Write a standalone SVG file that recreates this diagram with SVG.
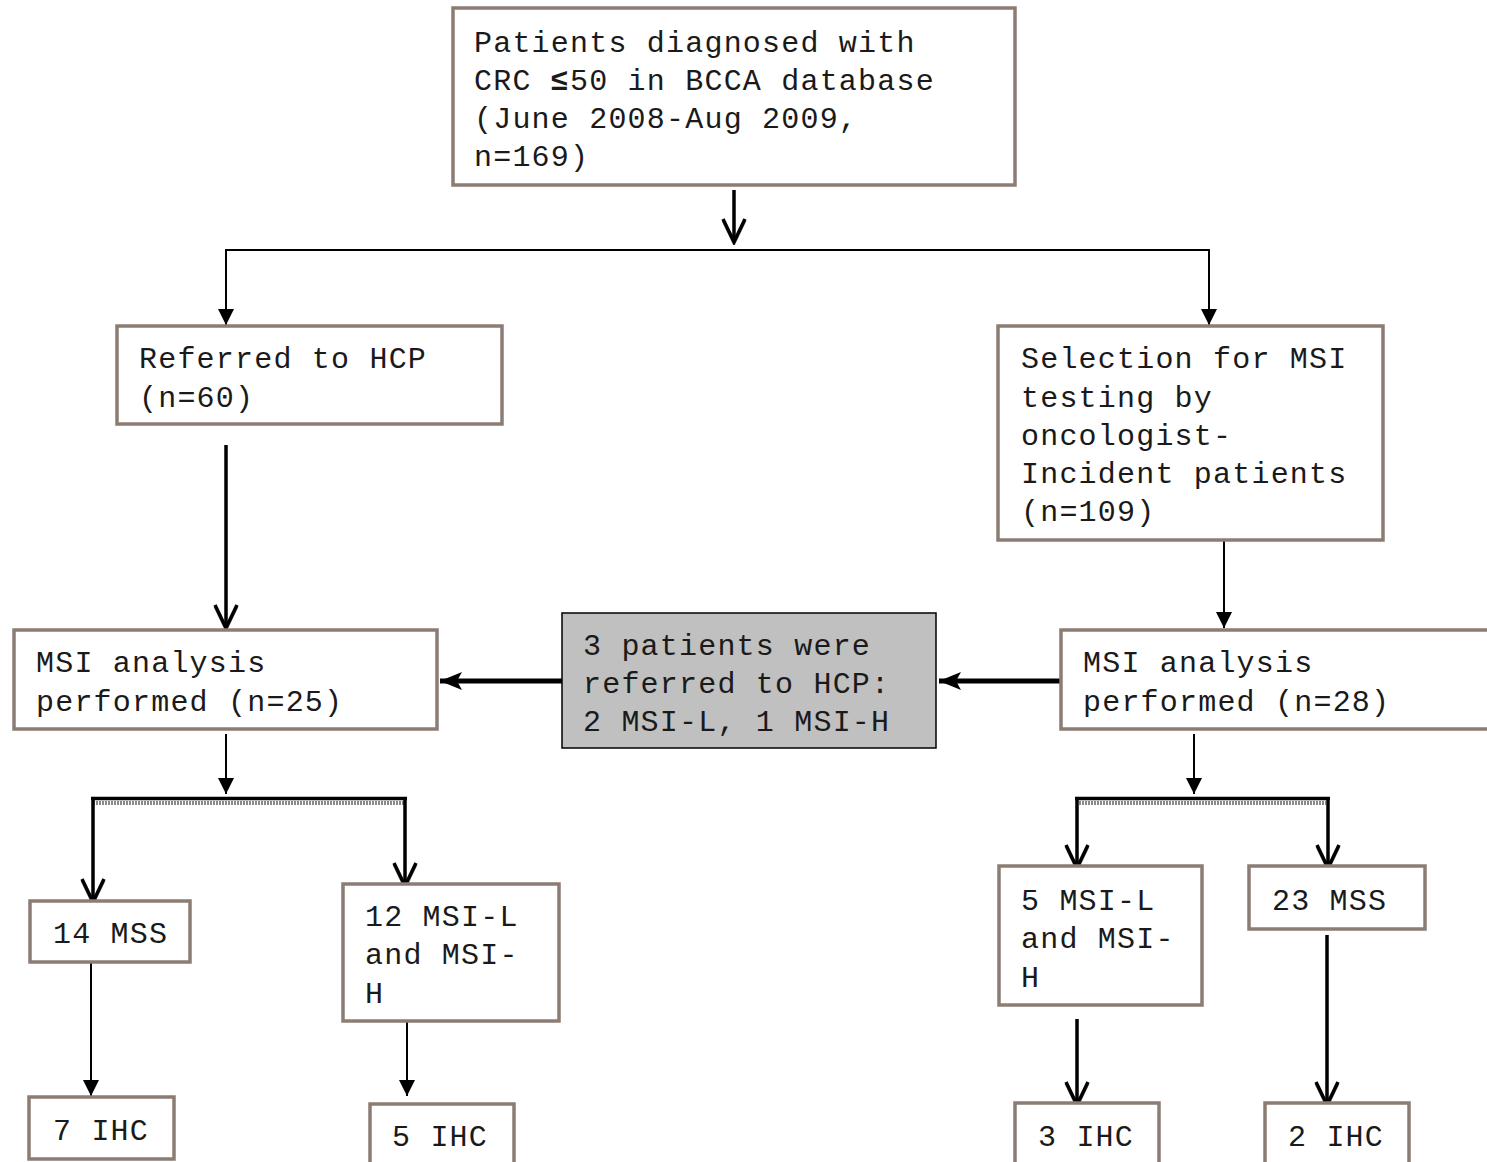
<svg xmlns="http://www.w3.org/2000/svg" width="1487" height="1162" viewBox="0 0 1487 1162">
<style>
.box{fill:#fff;stroke:#8c7d74;stroke-width:3.5}
.grey{fill:#c0c0c0;stroke:#000;stroke-width:1.5}
text{font-family:"Liberation Mono","Courier New",monospace;font-size:30px;letter-spacing:1.2px;fill:#1a1a1a}
.thin{stroke:#000;stroke-width:2;fill:none}
.thick{stroke:#000;stroke-width:3.5;fill:none}
.heavy{stroke:#000;stroke-width:5;fill:none}
.band{stroke:#8a8a8a;stroke-width:4;stroke-dasharray:2 1}
</style>
<defs>
<marker id="tri" markerUnits="userSpaceOnUse" viewBox="0 0 16 16" refX="16" refY="8" markerWidth="16" markerHeight="16" orient="auto">
<path d="M0,0 L16,8 L0,16 z" fill="#000"/>
</marker>
<marker id="triBig" markerUnits="userSpaceOnUse" viewBox="0 0 22 18" refX="22" refY="9" markerWidth="22" markerHeight="18" orient="auto">
<path d="M0,0 L22,9 L0,18 L5,9 z" fill="#000"/>
</marker>
<marker id="vee" markerUnits="userSpaceOnUse" viewBox="0 0 28 28" refX="25" refY="14" markerWidth="28" markerHeight="28" orient="auto">
<path d="M2,3 L25,14 L2,25" fill="none" stroke="#999" stroke-width="3" transform="translate(1.5,0)"/>
<path d="M2,3 L25,14 L2,25" fill="none" stroke="#000" stroke-width="3.5"/>
</marker>
</defs>

<g id="connectors">
<line class="thick" x1="734" y1="190" x2="734" y2="242" marker-end="url(#vee)"/>
<line class="thin" x1="226" y1="250" x2="1209" y2="250"/>
<line class="thin" x1="226" y1="249" x2="226" y2="325" marker-end="url(#tri)"/>
<line class="thin" x1="1209" y1="249" x2="1209" y2="325" marker-end="url(#tri)"/>
<line class="thick" x1="226" y1="445" x2="226" y2="628" marker-end="url(#vee)"/>
<line class="thin" x1="1224" y1="538" x2="1224" y2="628" marker-end="url(#tri)"/>
<line class="heavy" x1="562" y1="681" x2="440" y2="681" marker-end="url(#triBig)"/>
<line class="heavy" x1="1061" y1="681" x2="939" y2="681" marker-end="url(#triBig)"/>
<line class="thin" x1="226" y1="734" x2="226" y2="794" marker-end="url(#tri)"/>
<line class="band" x1="93" y1="803" x2="405" y2="803"/>
<line x1="91" y1="798.5" x2="407" y2="798.5" stroke="#000" stroke-width="3.5"/>
<line class="thick" x1="93" y1="797" x2="93" y2="902" marker-end="url(#vee)"/>
<line class="thick" x1="405" y1="797" x2="405" y2="886" marker-end="url(#vee)"/>
<line class="thin" x1="91" y1="962" x2="91" y2="1096" marker-end="url(#tri)"/>
<line class="thin" x1="407" y1="1021" x2="407" y2="1096" marker-end="url(#tri)"/>
<line class="thin" x1="1194" y1="734" x2="1194" y2="794" marker-end="url(#tri)"/>
<line class="band" x1="1079" y1="803" x2="1326" y2="803"/>
<line x1="1075" y1="798.5" x2="1330" y2="798.5" stroke="#000" stroke-width="3.5"/>
<line class="thick" x1="1077" y1="797" x2="1077" y2="868" marker-end="url(#vee)"/>
<line class="thick" x1="1328" y1="797" x2="1328" y2="868" marker-end="url(#vee)"/>
<line class="thick" x1="1077" y1="1019" x2="1077" y2="1105" marker-end="url(#vee)"/>
<line class="thick" x1="1327" y1="935" x2="1327" y2="1105" marker-end="url(#vee)"/>
</g>

<g id="n-top">
<rect class="box" x="453" y="8" width="562" height="177"/>
<text x="474" y="52">Patients diagnosed with</text>
<text x="474" y="90">CRC <tspan font-weight="bold">≤</tspan>50 in BCCA database</text>
<text x="474" y="128">(June 2008-Aug 2009,</text>
<text x="474" y="166">n=169)</text>
</g>
<g id="n-referred">
<rect class="box" x="117" y="326" width="385" height="98"/>
<text x="139" y="368">Referred to HCP</text>
<text x="139" y="407">(n=60)</text>
</g>
<g id="n-selection">
<rect class="box" x="998" y="326" width="385" height="214"/>
<text x="1021" y="368">Selection for MSI</text>
<text x="1021" y="407">testing by</text>
<text x="1021" y="445">oncologist-</text>
<text x="1021" y="483">Incident patients</text>
<text x="1021" y="521">(n=109)</text>
</g>
<g id="n-msi-left">
<rect class="box" x="14" y="630" width="423" height="99"/>
<text x="36" y="672">MSI analysis</text>
<text x="36" y="711">performed (n=25)</text>
</g>
<g id="n-grey">
<rect class="grey" x="562" y="613" width="374" height="135"/>
<text x="583" y="655">3 patients were</text>
<text x="583" y="693">referred to HCP:</text>
<text x="583" y="731">2 MSI-L, 1 MSI-H</text>
</g>
<g id="n-msi-right">
<rect class="box" x="1061" y="630" width="440" height="99"/>
<text x="1083" y="672">MSI analysis</text>
<text x="1083" y="711">performed (n=28)</text>
</g>
<g id="n-14mss">
<rect class="box" x="30" y="901" width="160" height="61"/>
<text x="53" y="943">14 MSS</text>
</g>
<g id="n-12msi">
<rect class="box" x="343" y="884" width="216" height="137"/>
<text x="365" y="926">12 MSI-L</text>
<text x="365" y="964">and MSI-</text>
<text x="365" y="1003">H</text>
</g>
<g id="n-5msi">
<rect class="box" x="999" y="866" width="203" height="139"/>
<text x="1021" y="910">5 MSI-L</text>
<text x="1021" y="948">and MSI-</text>
<text x="1021" y="987">H</text>
</g>
<g id="n-23mss">
<rect class="box" x="1249" y="866" width="176" height="63"/>
<text x="1272" y="910">23 MSS</text>
</g>
<g id="n-7ihc">
<rect class="box" x="29" y="1097" width="145" height="62"/>
<text x="53" y="1140">7 IHC</text>
</g>
<g id="n-5ihc">
<rect class="box" x="370" y="1104" width="144" height="70"/>
<text x="392" y="1146">5 IHC</text>
</g>
<g id="n-3ihc">
<rect class="box" x="1015" y="1103" width="144" height="70"/>
<text x="1038" y="1146">3 IHC</text>
</g>
<g id="n-2ihc">
<rect class="box" x="1265" y="1103" width="144" height="70"/>
<text x="1288" y="1146">2 IHC</text>
</g>
</svg>
